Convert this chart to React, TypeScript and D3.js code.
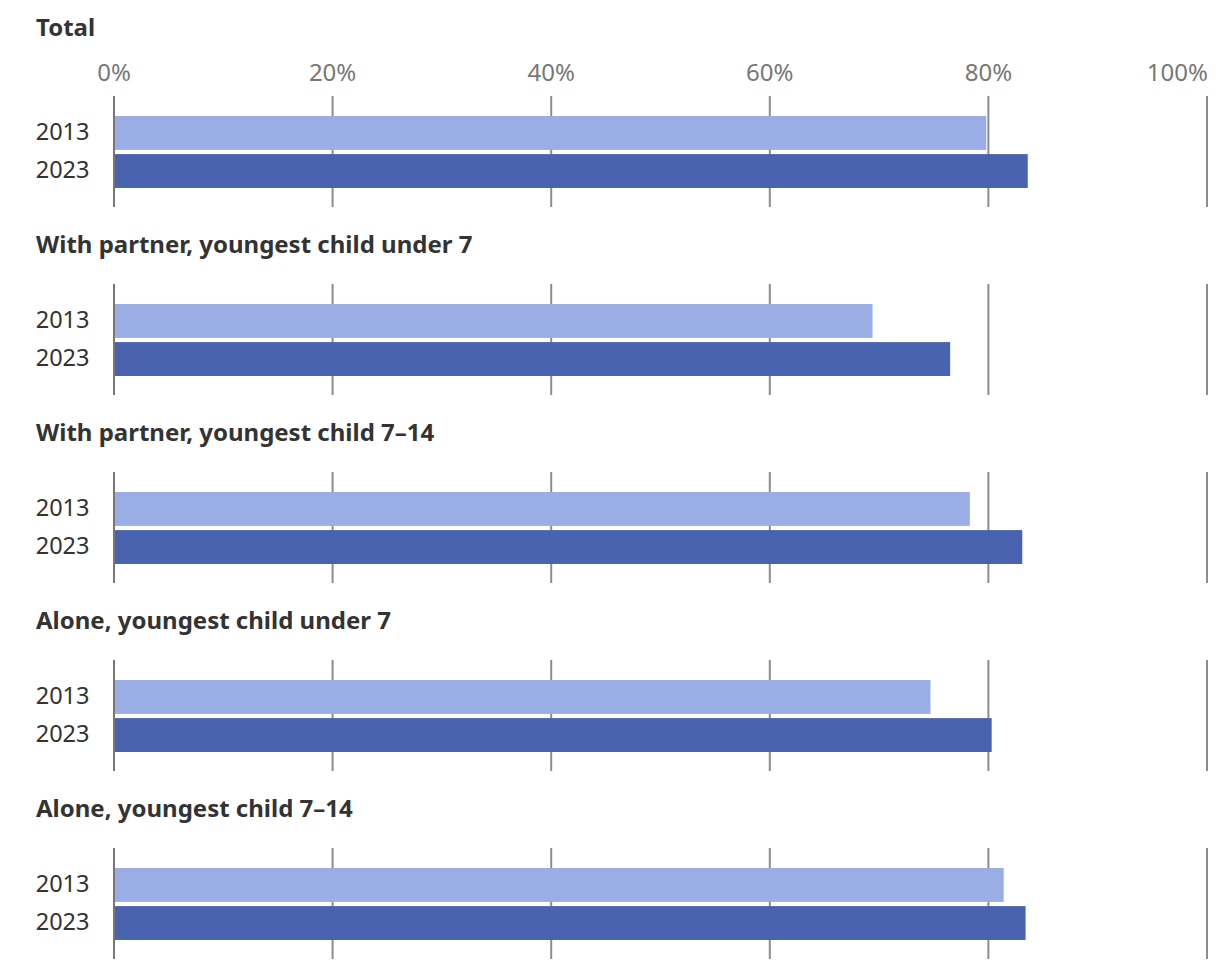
import React, { useEffect, useRef } from 'react';
import * as d3 from 'd3';

const groups = [
  'Total',
  'With partner, youngest child under 7',
  'With partner, youngest child 7–14',
  'Alone, youngest child under 7',
  'Alone, youngest child 7–14'
];
const years = ['2013', '2023'];
const values2013 = [79.8, 69.4, 78.3, 74.7, 81.4];
const values2023 = [83.6, 76.5, 83.1, 80.3, 83.4];
const ticks = [0, 20, 40, 60, 80, 100];

const colors = ['#9badE5', '#4a63b0'];

const App = () => {
  const ref = useRef<SVGSVGElement>(null);

  useEffect(() => {
    const svg = d3.select(ref.current);
    svg.selectAll('*').remove();

    const font = "'Noto Sans', 'Open Sans', sans-serif";
    const x = d3.scaleLinear().domain([0, 100]).range([114, 1207]);
    const panelTop = d3
      .scaleLinear()
      .domain([0, 1])
      .range([116, 116 + 188]);
    const y = d3.scaleBand().domain(years).range([0, 72]).paddingInner(0.11);

    // tick labels above the first panel, last one kept inside the frame
    svg
      .append('g')
      .selectAll('text')
      .data(ticks)
      .join('text')
      .attr('x', d => (d === 100 ? x(d) + 1 : x(d)))
      .attr('y', 80.5)
      .attr('text-anchor', d => (d === 100 ? 'end' : 'middle'))
      .attr('font-family', font)
      .attr('font-size', 24)
      .attr('fill', '#777')
      .text(d => `${d}%`);

    groups.forEach((name, i) => {
      const top = panelTop(i);
      const g = svg.append('g').attr('transform', `translate(0,${top})`);

      svg
        .append('text')
        .attr('x', 36)
        .attr('y', i === 0 ? 36 : top - 51)
        .attr('font-family', font)
        .attr('font-weight', 700)
        .attr('font-size', 24)
        .attr('fill', '#333')
        .text(name);

      // grid lines (behind bars)
      g.selectAll('line.grid')
        .data(ticks.slice(1))
        .join('line')
        .attr('class', 'grid')
        .attr('x1', d => x(d))
        .attr('x2', d => x(d))
        .attr('y1', -20)
        .attr('y2', 91)
        .attr('stroke', '#8c8c8c')
        .attr('stroke-width', 2);

      const vals = [values2013[i], values2023[i]];
      g.selectAll('rect')
        .data(vals)
        .join('rect')
        .attr('x', x(0))
        .attr('y', (d, j) => y(years[j]) as number)
        .attr('width', d => x(d) - x(0))
        .attr('height', y.bandwidth())
        .attr('fill', (d, j) => colors[j]);

      g.append('line')
        .attr('x1', x(0))
        .attr('x2', x(0))
        .attr('y1', -20)
        .attr('y2', 91)
        .attr('stroke', '#777')
        .attr('stroke-width', 2);

      g.selectAll('text.year')
        .data(years)
        .join('text')
        .attr('class', 'year')
        .attr('x', 89.5)
        .attr('y', d => (y(d) as number) + y.bandwidth() / 2)
        .attr('dy', '0.3em')
        .attr('text-anchor', 'end')
        .attr('font-family', font)
        .attr('font-size', 23.5)
        .attr('fill', '#333')
        .text(d => d);
    });
  });

  return (
    <svg
      ref={ref}
      width={1220}
      height={970}
      style={{ position: 'absolute', left: 0, top: 0, background: '#fff' }}
    />
  );
};

export default App;
